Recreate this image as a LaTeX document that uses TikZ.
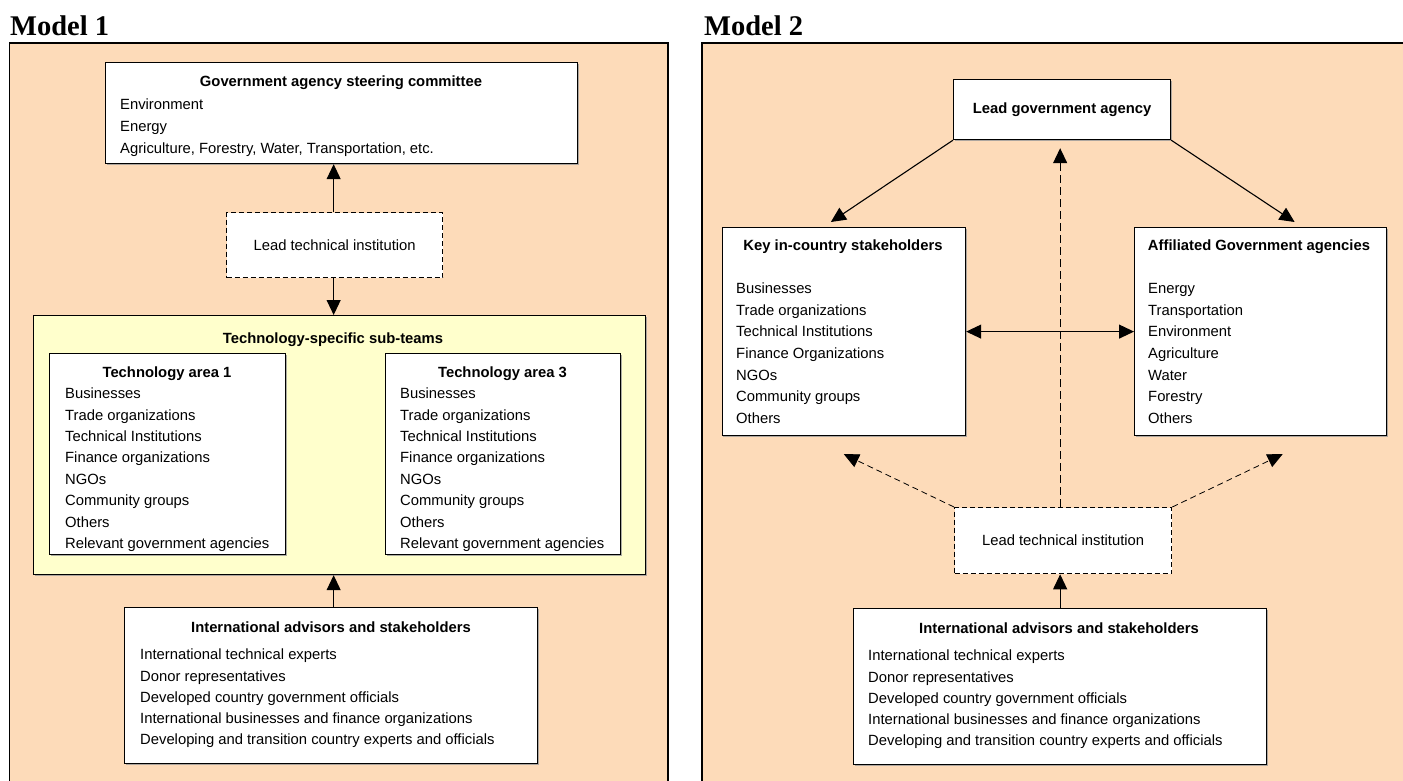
\documentclass[tikz,border=0pt]{standalone}
\usepackage{fontspec}
\setmainfont{Liberation Sans}
\newfontfamily\headserif{Liberation Serif}
\usetikzlibrary{arrows.meta,calc,shadows}
\definecolor{peach}{RGB}{253,219,185}
\definecolor{paleyellow}{RGB}{255,255,204}
\newcommand{\bodyfont}[1]{\fontsize{14.8}{#1}\selectfont}
\begin{document}
\begin{tikzpicture}[x=1pt,y=-1pt,
  panel/.style={draw=black,line width=1.3pt,fill=peach},
  box/.style={draw=black,line width=1.2pt,fill=white,rectangle,inner sep=0pt,anchor=north west,
    drop shadow={shadow xshift=1.2pt,shadow yshift=-1.2pt,fill=gray!80,opacity=0.8}},
  dbox/.style={draw=black,line width=1.3pt,fill=white,rectangle,inner sep=0pt,anchor=north west,
    dash pattern=on 5pt off 3pt,font=\bodyfont{18}},
  teams/.style={draw=black,line width=1.2pt,fill=paleyellow,rectangle,inner sep=0pt,anchor=north west,
    drop shadow={shadow xshift=1.2pt,shadow yshift=-1.2pt,fill=gray!80,opacity=0.8}},
  ttl/.style={anchor=base,inner sep=0pt,font=\bodyfont{18}\bfseries},
  lst/.style={anchor=north west,inner sep=0pt,align=left},
  head/.style={anchor=base west,inner sep=0pt,font=\headserif\fontsize{28.5}{30}\selectfont\bfseries},
  tip/.style={-{Triangle[length=15pt,width=14pt]}},
  arr/.style={draw=black,line width=1.1pt,tip},
  darr/.style={draw=black,line width=1.3pt,dash pattern=on 8pt off 4pt,tip},
  tarr/.style={draw=black,line width=0.8pt,dash pattern=on 6pt off 4pt,tip}
]
\useasboundingbox (0,0) rectangle (1403,781);

% ---------------- Model 1 ----------------
\node[head] (m1) at (10,36) {Model 1};
\fill[peach] (9.5,43) rectangle (668,795);
\draw[line width=1.3pt] (9.5,795) -- (9.5,43) -- (668,43) -- (668,795);

\node[box,minimum width=472pt,minimum height=101pt] (gov) at (105,62) {};
\node[ttl] (govt) at (341,87) {Government agency steering committee};
\node[lst,font=\bodyfont{22}] (govl) at (120,93.6) {\strut Environment\\Energy\\Agriculture, Forestry, Water, Transportation, etc.};

\node[dbox,minimum width=216pt,minimum height=65pt] (lead1) at (226,212) {Lead technical institution};

\node[teams,minimum width=612pt,minimum height=259pt] (subs) at (33,315) {};
\node[ttl] (subst) at (333,343.5) {Technology-specific sub-teams};

\node[box,minimum width=236pt,minimum height=201pt] (ta1) at (49,353) {};
\node[ttl] (ta1t) at (167,377.5) {Technology area 1};
\node[lst,font=\bodyfont{21.4}] (ta1l) at (65,383.5) {\strut Businesses\\Trade organizations\\Technical Institutions\\Finance organizations\\NGOs\\Community groups\\Others\\Relevant government agencies};

\node[box,minimum width=235pt,minimum height=201pt] (ta3) at (385,353) {};
\node[ttl] (ta3t) at (502.5,377.5) {Technology area 3};
\node[lst,font=\bodyfont{21.4}] (ta3l) at (400,383.5) {\strut Businesses\\Trade organizations\\Technical Institutions\\Finance organizations\\NGOs\\Community groups\\Others\\Relevant government agencies};

\node[box,minimum width=413pt,minimum height=156pt] (intl1) at (124,607) {};
\node[ttl] (intl1t) at (331,632.5) {International advisors and stakeholders};
\node[lst,font=\bodyfont{21.3}] (intl1l) at (140,644.6) {\strut International technical experts\\Donor representatives\\Developed country government officials\\International businesses and finance organizations\\Developing and transition country experts and officials};

\draw[arr] ([xshift=-1pt]lead1.north) -- ([xshift=-1pt]lead1.north |- gov.south);
\draw[arr] ([xshift=-1pt]lead1.south) -- ([xshift=-1pt]lead1.south |- subs.north);
\draw[arr] ([xshift=-1pt]lead1.south |- intl1.north) -- ([xshift=-1pt]lead1.south |- subs.south);

% ---------------- Model 2 ----------------
\node[head] (m2) at (704,36) {Model 2};
\fill[peach] (702,43) rectangle (1410,795);
\draw[line width=1.3pt] (702,795) -- (702,43) -- (1410,43);

\node[box,minimum width=217pt,minimum height=60pt,font=\bodyfont{18}\bfseries] (leadgov) at (953,79) {Lead government agency};

\node[box,minimum width=243.5pt,minimum height=208pt] (key) at (721.5,227) {};
\node[ttl] (keyt) at (843,250.5) {Key in-country stakeholders};
\node[lst,font=\bodyfont{21.6}] (keyl) at (736,278.4) {\strut Businesses\\Trade organizations\\Technical Institutions\\Finance Organizations\\NGOs\\Community groups\\Others};

\node[box,minimum width=252pt,minimum height=208pt] (aff) at (1134,227) {};
\node[ttl] (afft) at (1259,250.5) {Affiliated Government agencies};
\node[lst,font=\bodyfont{21.6}] (affl) at (1148,278.4) {\strut Energy\\Transportation\\Environment\\Agriculture\\Water\\Forestry\\Others};

\node[dbox,minimum width=217pt,minimum height=66pt] (lead2) at (954,507) {Lead technical institution};

\node[box,minimum width=413pt,minimum height=156pt] (intl2) at (853,608) {};
\node[ttl] (intl2t) at (1059,633.5) {International advisors and stakeholders};
\node[lst,font=\bodyfont{21.3}] (intl2l) at (868,645.6) {\strut International technical experts\\Donor representatives\\Developed country government officials\\International businesses and finance organizations\\Developing and transition country experts and officials};

\draw[arr] (leadgov.south west) -- ($(key.north)+(-13,-5)$);
\draw[arr] (leadgov.south east) -- ($(aff.north)+(34,-5)$);
\draw[darr] ([xshift=-3pt]lead2.north) -- ([xshift=-3pt,yshift=-8pt]lead2.north |- leadgov.south);
\draw[draw=black,line width=1.1pt,{Triangle[length=15pt,width=14pt]}-{Triangle[length=15pt,width=14pt]}] (key.east) -- (aff.west);
\draw[tarr] (lead2.north west) -- ($(key.south)+(0,18)$);
\draw[tarr] (lead2.north east) -- ($(aff.south)+(22,18)$);
\draw[arr] ([xshift=-3pt]lead2.south |- intl2.north) -- ([xshift=-3pt]lead2.south);
\end{tikzpicture}
\end{document}
